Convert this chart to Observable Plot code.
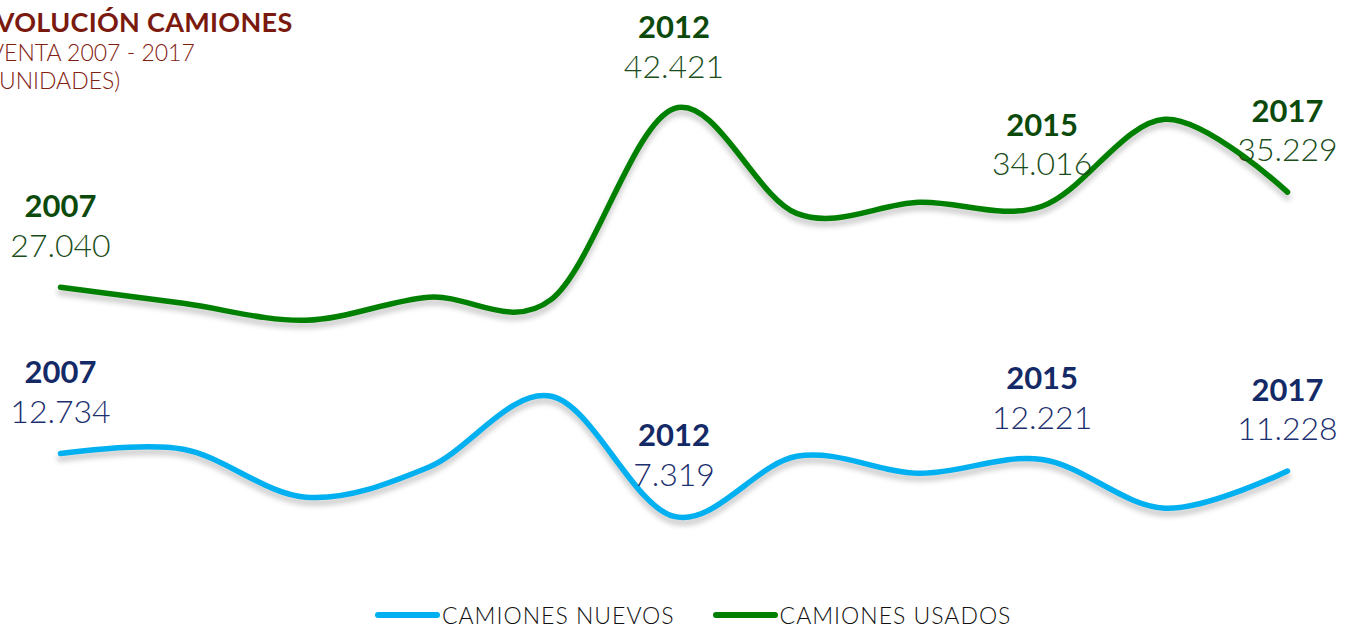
<!DOCTYPE html>
<html><head><meta charset="utf-8">
<script src="https://cdn.jsdelivr.net/npm/d3@7"></script>
<script src="https://cdn.jsdelivr.net/npm/@observablehq/plot@0.6"></script>
<style>
body{margin:0;background:#fff;width:1356px;height:628px;overflow:hidden;position:relative;font-family:Lato,"Noto Sans",sans-serif;}
#chart svg{display:block}
.t{position:absolute;white-space:nowrap;line-height:1}
#t1{left:-20px;top:8px;font-size:27px;font-weight:700;color:#7a1a0e;letter-spacing:0.3px}
#t2{left:-11px;top:41px;font-size:23px;font-weight:300;color:#7f2010}
#t3{left:-7px;top:69px;font-size:23px;font-weight:300;color:#7f2010}
#legend{position:absolute;left:375px;top:601px;height:28px;display:flex;align-items:center;font-size:23px;font-weight:300;color:#111;letter-spacing:1px}
.sw{display:inline-block;width:65px;height:6px;border-radius:3px;margin-right:2px}
.item{display:flex;align-items:center;margin-right:38px}
</style></head><body>
<div id="chart"></div>
<div class="t" id="t1">EVOLUCIÓN CAMIONES</div>
<div class="t" id="t2">VENTA 2007 - 2017</div>
<div class="t" id="t3">(UNIDADES)</div>
<div id="legend"></div>
<script>
const years = [2007, 2008, 2009, 2010, 2011, 2012, 2013, 2014, 2015, 2016, 2017];
const nuevos = [12734, 13100, 8980, 11560, 17660, 7319, 12500, 11040, 12221, 8030, 11228];
const usados = [27040, 25660, 24200, 26180, 26000, 42421, 33400, 34350, 34016, 41500, 35229];
const labelYears = [2007, 2012, 2015, 2017];
const seriesNames = ["CAMIONES NUEVOS", "CAMIONES USADOS"];
const lineColors = ["#00b0f0", "#008000"];
const yearColors = ["#142a66", "#0b4a0b"];
const valueColors = ["#1c2f6e", "#1a4d1a"];

const fmt = d3.formatLocale({decimal: ",", thousands: ".", grouping: [3], currency: ["", ""]}).format(",d");
const rows = [];
years.forEach((yr, i) => {
  rows.push({year: yr, value: nuevos[i], s: 0});
  rows.push({year: yr, value: usados[i], s: 1});
});
const N = rows.filter(d => d.s === 0), U = rows.filter(d => d.s === 1);
const lab = rows.filter(d => labelYears.includes(d.year));

const marks = [];
[N, U].forEach((data, s) => {
  marks.push(Plot.line(data, {x: "year", y: "value", curve: "cardinal", stroke: "#000", strokeOpacity: 0.18, strokeWidth: 7, dy: 5, strokeLinecap: "round"}));
});
[N, U].forEach((data, s) => {
  marks.push(Plot.line(data, {x: "year", y: "value", curve: "cardinal", stroke: lineColors[s], strokeWidth: 5.5, strokeLinecap: "round"}));
});
[0, 1].forEach(s => {
  const d = lab.filter(r => r.s === s);
  marks.push(Plot.text(d, {x: "year", y: "value", text: r => String(r.year), dy: -80, fontSize: 31, fontWeight: 700, fill: yearColors[s], fontFamily: "Lato"}));
  marks.push(Plot.text(d, {x: "year", y: "value", text: r => fmt(r.value), dy: -41, fontSize: 32, fontWeight: 300, fill: valueColors[s], fontFamily: "Lato"}));
});

const chart = Plot.plot({
  width: 1356, height: 601,
  marginLeft: 60, marginRight: 69, marginTop: 20, marginBottom: 0,
  x: {domain: [2007, 2017], axis: null},
  y: {domain: [0, 50000], axis: null},
  marks
});
document.getElementById("chart").appendChild(chart);
d3.select(chart).selectAll('g[aria-label="line"]').filter((d, i) => i < 2).style("filter", "blur(2.5px)");

const lg = document.getElementById("legend");
seriesNames.forEach((n, s) => {
  const it = document.createElement("div"); it.className = "item";
  const sw = document.createElement("span"); sw.className = "sw"; sw.style.background = lineColors[s];
  it.appendChild(sw); it.appendChild(document.createTextNode(n));
  lg.appendChild(it);
});
</script>
</body></html>
